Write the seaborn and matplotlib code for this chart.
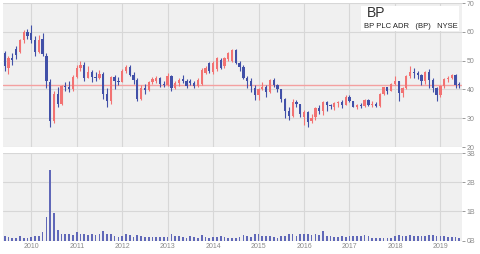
import matplotlib
matplotlib.use("Agg")
import matplotlib.pyplot as plt
import matplotlib.patches as mpatches
import seaborn as sns
import numpy as np
import pandas as pd

# ---- data (monthly, Jun 2009 .. Jun 2019) ----
months = pd.date_range("2009-06-01", "2019-06-01", freq="MS")

opens = [52.5, 47.5, 51.0, 54.0, 53.0, 57.0, 60.0,
         59.5, 57.0, 53.0, 57.5, 51.5, 42.5, 29.0, 38.5, 35.0, 41.2, 40.8, 40.0,
         44.2, 47.5, 48.6, 44.1, 46.2, 44.3, 44.0, 45.4, 38.5, 36.1, 44.2, 43.0,
         42.7, 46.3, 47.8, 45.0, 43.4, 36.8, 40.5, 39.9, 42.4, 43.0, 44.0, 41.8,
         41.6, 44.5, 40.6, 42.3, 43.6, 42.9, 42.8, 42.3, 41.2, 42.0, 45.8, 49.0,
         46.0, 47.0, 50.3, 48.0, 50.4, 50.0, 53.6, 49.2, 47.9, 44.0, 42.9, 40.5,
         38.0, 40.0, 41.0, 39.2, 43.3, 41.4, 40.0, 36.5, 32.5, 30.6, 35.7, 34.8,
         30.5, 32.0, 28.9, 30.3, 33.6, 32.5, 35.5, 34.5, 34.0, 35.2, 35.6, 34.7,
         37.4, 35.9, 34.0, 34.5, 34.3, 36.3, 34.6, 35.1, 34.3, 38.4, 40.7, 39.5,
         42.0, 42.9, 38.9, 40.5, 44.6, 45.9, 45.7, 45.1, 42.9, 46.1, 43.4, 40.4,
         37.9, 41.1, 43.7, 44.0, 45.0, 41.9]
highs = [53.5, 51.5, 52.5, 55.0, 57.5, 60.5, 61.0,
         62.4, 58.5, 59.0, 59.5, 52.5, 43.5, 39.5, 41.0, 41.5, 42.5, 43.0, 45.0,
         48.5, 49.7, 49.4, 48.0, 46.9, 46.0, 46.6, 46.0, 40.5, 44.8, 45.0, 44.3,
         47.0, 48.6, 48.3, 46.2, 43.8, 41.7, 41.8, 43.0, 44.2, 44.6, 44.3, 43.0,
         45.8, 45.0, 43.0, 44.0, 45.0, 43.5, 43.5, 43.0, 43.8, 47.3, 48.0, 49.6,
         49.8, 51.3, 51.0, 51.2, 53.0, 54.2, 54.0, 49.8, 48.5, 44.5, 43.8, 41.5,
         40.5, 42.5, 41.5, 43.7, 43.8, 42.0, 40.3, 37.0, 34.0, 36.5, 36.3, 35.0,
         32.8, 32.5, 31.5, 34.0, 34.5, 36.0, 35.8, 35.0, 35.5, 36.0, 36.2, 38.0,
         38.0, 36.0, 35.0, 35.2, 36.8, 36.5, 35.8, 35.5, 38.6, 41.0, 41.0, 42.2,
         44.8, 43.0, 40.8, 45.0, 48.0, 47.5, 46.5, 45.5, 46.5, 47.2, 43.8, 41.0,
         41.5, 44.0, 44.5, 45.5, 45.3, 42.5]
lows = [46.5, 45.5, 48.5, 50.5, 52.5, 56.0, 57.5,
        56.0, 51.5, 52.5, 51.5, 40.5, 26.8, 28.5, 34.0, 34.5, 39.5, 39.0, 39.5,
        43.8, 46.5, 43.0, 43.8, 42.5, 42.8, 43.5, 36.8, 34.0, 35.0, 40.0, 41.5,
        42.5, 45.8, 44.5, 42.0, 36.0, 36.3, 38.5, 39.5, 41.8, 42.2, 41.0, 40.8,
        41.3, 39.5, 40.0, 41.2, 42.2, 40.5, 41.5, 40.5, 41.0, 41.5, 45.3, 45.8,
        45.5, 46.5, 47.0, 47.6, 50.0, 49.6, 48.8, 46.5, 43.5, 40.5, 39.0, 36.2,
        36.3, 39.8, 37.5, 38.8, 40.8, 39.2, 35.5, 30.0, 29.5, 30.5, 34.0, 30.5,
        27.8, 27.0, 28.2, 29.5, 31.5, 31.0, 32.5, 33.2, 32.8, 34.0, 33.5, 34.5,
        35.5, 33.8, 33.2, 33.5, 34.0, 34.2, 34.0, 33.8, 34.0, 38.0, 38.5, 39.3,
        41.5, 36.0, 37.5, 40.2, 44.0, 44.0, 43.5, 41.5, 42.0, 40.5, 39.0, 36.0,
        37.5, 40.5, 42.5, 43.5, 40.5, 40.6]
closes = [48.0, 50.8, 50.2, 52.0, 57.0, 60.0, 58.5,
          57.0, 53.0, 57.0, 52.3, 42.8, 29.0, 38.5, 35.0, 41.2, 40.8, 40.0, 44.2,
          47.5, 48.6, 44.1, 46.2, 44.3, 44.0, 45.4, 38.5, 36.1, 44.2, 43.0, 42.7,
          46.3, 47.8, 45.0, 43.4, 36.8, 40.5, 39.9, 42.4, 43.5, 44.0, 41.8, 41.6,
          44.5, 40.6, 42.3, 43.4, 42.9, 41.3, 42.2, 41.2, 43.2, 46.9, 47.5, 46.4,
          49.2, 50.9, 47.6, 50.8, 52.6, 53.6, 49.2, 47.9, 43.9, 42.9, 41.1, 38.1,
          40.1, 41.0, 39.1, 43.3, 41.4, 40.0, 36.5, 32.5, 30.6, 35.7, 34.8, 31.3,
          32.3, 28.8, 30.2, 33.6, 32.6, 35.5, 34.5, 34.1, 35.2, 35.6, 34.7, 37.4,
          35.9, 34.0, 34.5, 34.3, 36.3, 34.6, 35.1, 34.3, 38.4, 40.7, 39.5, 42.0,
          42.9, 38.9, 40.5, 44.6, 45.9, 45.7, 45.1, 42.9, 46.1, 43.4, 40.4, 37.9,
          41.1, 43.7, 43.9, 45.0, 41.7, 41.4]
volume_b = [0.15, 0.13, 0.10, 0.10, 0.14, 0.10, 0.09,
            0.11, 0.15, 0.15, 0.28, 0.79, 2.43, 0.93, 0.36, 0.21, 0.21, 0.21, 0.18,
            0.29, 0.21, 0.22, 0.18, 0.21, 0.18, 0.21, 0.32, 0.24, 0.24, 0.15, 0.13,
            0.16, 0.22, 0.18, 0.13, 0.18, 0.15, 0.13, 0.11, 0.13, 0.13, 0.13, 0.11,
            0.13, 0.21, 0.15, 0.15, 0.13, 0.10, 0.14, 0.11, 0.09, 0.18, 0.11, 0.10,
            0.13, 0.13, 0.15, 0.11, 0.10, 0.10, 0.10,
            0.13, 0.18, 0.15, 0.13, 0.23, 0.22, 0.16, 0.15, 0.15, 0.11, 0.10, 0.15,
            0.17, 0.21, 0.21, 0.15, 0.21, 0.22, 0.22, 0.18, 0.21, 0.18, 0.31, 0.16,
            0.15, 0.11, 0.11, 0.15, 0.13, 0.14, 0.15, 0.15, 0.14, 0.18, 0.15, 0.09,
            0.10, 0.10, 0.10, 0.10, 0.10, 0.15, 0.18, 0.15, 0.17, 0.18, 0.16, 0.15,
            0.15, 0.16, 0.18, 0.18, 0.17, 0.15, 0.14, 0.13, 0.13, 0.11, 0.07]
year_labels = ["2010", "2011", "2012", "2013", "2014", "2015", "2016", "2017", "2018", "2019"]
price_ticks = [20, 30, 40, 50, 60, 70]
vol_ticks = [0, 1, 2, 3]
vol_tick_labels = ["0B", "1B", "2B", "3B"]
ticker = "BP"
subtitle = "BP PLC ADR   (BP)   NYSE"

# ---- styling ----
sns.set_theme(style="white")
plt.rcParams["font.family"] = ["Liberation Sans", "DejaVu Sans"]

UP = "#f27272"
DOWN = "#4150a8"
VOLC = "#6068b8"
BG = "#f0f0f0"
GRID = "#d7d7d7"
TXT = "#8a8a8a"

df = pd.DataFrame({"month": months, "open": opens, "high": highs,
                   "low": lows, "close": closes, "volume": volume_b})
df["i"] = np.arange(len(df))
o = df["open"].to_numpy(); c = df["close"].to_numpy()
col = np.where(c >= o, UP, DOWN)
year_pos = [int(np.where((df["month"].dt.year == int(y)) & (df["month"].dt.month == 1))[0][0])
            for y in year_labels]

fig = plt.figure(figsize=(4.8, 2.54), dpi=100)
fig.patch.set_facecolor("white")
axp = fig.add_axes([3/480, 107/254, 459/480, 144/254])
axv = fig.add_axes([3/480, 13.5/254, 459/480, 87.5/254])

XL = (-0.45, 120.7)

# price panel
axp.set_facecolor(BG)
axp.vlines(df["i"], df["low"], df["high"], colors=col, lw=0.8, zorder=3)
body = np.maximum(np.abs(c - o), 0.25)
axp.bar(df["i"], body, bottom=np.minimum(o, c), width=0.6, color=col, linewidth=0, zorder=4)
axp.axhline(closes[-1], color="#f4a0a0", lw=1.0, zorder=2)
axp.set_xlim(*XL)
axp.set_ylim(20, 70)
axp.set_yticks(price_ticks)
axp.set_xticks(year_pos)
axp.set_xticklabels([])
axp.yaxis.tick_right()
axp.tick_params(axis="y", labelsize=5, colors=TXT, length=2, width=0.6, pad=1.5)
axp.tick_params(axis="x", length=0)
axp.grid(True, color=GRID, lw=0.8)
axp.set_axisbelow(True)

axp.add_patch(mpatches.Rectangle((0.781, 0.806), 0.212, 0.173, transform=axp.transAxes,
                                 facecolor="white", edgecolor="none", zorder=5))
axp.text(0.792, 0.905, ticker, transform=axp.transAxes, fontsize=10, color="#333333",
         va="baseline", ha="left", zorder=6)
axp.text(0.786, 0.824, subtitle, transform=axp.transAxes, fontsize=5.5, color="#222222",
         va="baseline", ha="left", zorder=6)

# volume panel
axv.set_facecolor(BG)
sns.barplot(data=df, x="i", y="volume", ax=axv, color=VOLC, width=0.45,
            saturation=1, linewidth=0, zorder=3)
axv.set_xlim(*XL)
axv.set_ylim(0, 3)
axv.set_yticks(vol_ticks)
axv.set_yticklabels(vol_tick_labels)
axv.yaxis.tick_right()
axv.set_xticks(year_pos)
axv.set_xticklabels(year_labels)
axv.set_xlabel(""); axv.set_ylabel("")
axv.tick_params(axis="y", labelsize=5, colors=TXT, length=2, width=0.6, pad=1.5)
axv.tick_params(axis="x", labelsize=5, colors=TXT, length=0, pad=2)
axv.grid(True, color=GRID, lw=0.8)
axv.set_axisbelow(True)

for ax in (axp, axv):
    for s in ax.spines.values():
        s.set_visible(False)

fig.savefig("out.png", dpi=100)
